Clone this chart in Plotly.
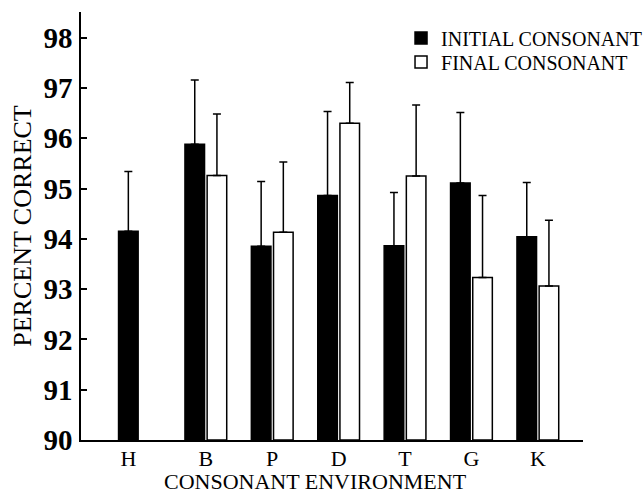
import plotly.graph_objects as go

categories = ["H", "B", "P", "D", "T", "G", "K"]
initial_mean = [94.15, 95.88, 93.85, 94.86, 93.86, 95.11, 94.04]
initial_err = [1.19, 1.28, 1.29, 1.67, 1.06, 1.40, 1.08]
final_mean = [None, 95.26, 94.13, 96.30, 95.25, 93.23, 93.06]
final_err = [None, 1.22, 1.40, 0.81, 1.41, 1.63, 1.31]
y_ticks = [90, 91, 92, 93, 94, 95, 96, 97, 98]

OFF = 0.167
BW = 0.295
SERIF = "Liberation Serif"

idx = list(range(len(categories)))
x_init = [i - OFF for i in idx]
x_final = [i + OFF for i in idx]
tickvals = [(i - OFF) if final_mean[i] is None else i for i in idx]

fig = go.Figure()
fig.add_trace(go.Bar(
    x=x_init, y=[v - 90 for v in initial_mean], base=90, width=BW,
    name="INITIAL CONSONANT", legend="legend",
    marker=dict(color="black", line=dict(color="black", width=1.5)),
    error_y=dict(type="data", array=initial_err, arrayminus=[0] * len(idx),
                 symmetric=False, color="black", thickness=1.5, width=4),
))
fig.add_trace(go.Bar(
    x=x_final, y=[None if v is None else v - 90 for v in final_mean], base=90, width=BW,
    name="FINAL CONSONANT", legend="legend2",
    marker=dict(color="white", line=dict(color="black", width=1.5)),
    error_y=dict(type="data", array=final_err, arrayminus=[0] * len(idx),
                 symmetric=False, color="black", thickness=1.5, width=4),
))

legend_style = dict(xanchor="left", yanchor="middle",
                    bgcolor="rgba(0,0,0,0)", borderwidth=0,
                    font=dict(family=SERIF, size=20, color="black"))

fig.update_layout(
    width=644, height=495,
    margin=dict(l=81, r=61, t=12, b=55, autoexpand=False),
    paper_bgcolor="white", plot_bgcolor="white",
    barmode="overlay",
    showlegend=True,
    legend=dict(x=0.6375, y=0.939, **legend_style),
    legend2=dict(x=0.6375, y=0.883, **legend_style),
    font=dict(family=SERIF, color="black"),
)
fig.update_xaxes(
    range=[-0.88, 6.68], tickmode="array", tickvals=tickvals, ticktext=categories,
    showline=True, linecolor="black", linewidth=1.5, ticks="",
    showgrid=False, zeroline=False, automargin=False,
    ticklabelstandoff=-2,
    tickfont=dict(family=SERIF, size=22, color="black"),
)
fig.update_yaxes(
    range=[90, 98.51], tickmode="array", tickvals=y_ticks,
    ticktext=[str(t) for t in y_ticks],
    showline=True, linecolor="black", linewidth=1.5,
    ticks="inside", ticklen=6, tickcolor="black", tickwidth=1.5,
    showgrid=False, zeroline=False, automargin=False,
    ticklabelstandoff=1,
    tickfont=dict(family=SERIF, size=29, color="black", weight="bold"),
    title=dict(text="PERCENT CORRECT", font=dict(family=SERIF, size=26, color="black"),
               standoff=4),
)
fig.add_annotation(
    text="CONSONANT ENVIRONMENT", xref="paper", yref="paper",
    x=0.468, y=-0.096, xanchor="center", yanchor="middle", showarrow=False,
    font=dict(family=SERIF, size=22, color="black"),
)

fig.write_html("out.html", config={"displayModeBar": False},
               post_script="document.body.style.margin='0px';")
